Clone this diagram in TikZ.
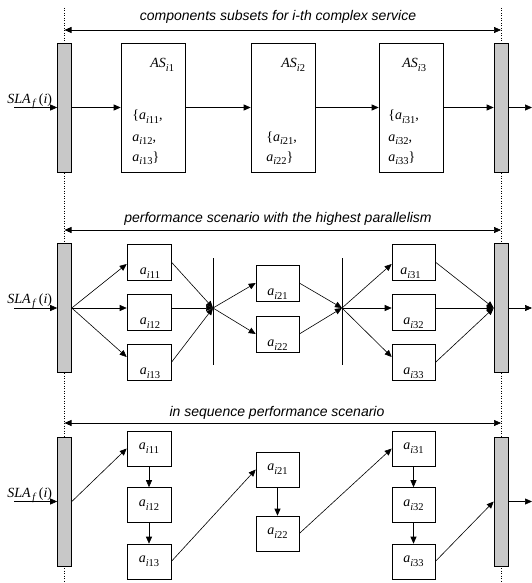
\documentclass[tikz,border=0pt]{standalone}
\usepackage{fontspec}
\setmainfont{Liberation Serif}
\newfontfamily\labfont{Liberation Sans}
\usetikzlibrary{arrows.meta,calc}
\definecolor{barfill}{RGB}{200,200,200}
\newcommand\sbs[1]{\raisebox{-0.28em}{\fontsize{10.5}{11}\selectfont #1}}
\newcommand\ai[1]{\textit{a}\sbs{\textit{i}#1}}
\begin{document}
\begin{tikzpicture}[x=1pt,y=-1pt, line width=0.6pt,
 arr/.style={-{Triangle[length=7pt,width=6pt]}},
 dbl/.style={{Triangle[length=7pt,width=6pt]}-{Triangle[length=7pt,width=6pt]}},
 gbar/.style={draw, fill=barfill, minimum width=14pt, minimum height=129pt, inner sep=0pt},
 asbox/.style={draw, minimum width=64pt, minimum height=129pt, inner sep=0pt},
 sbox/.style={draw, minimum width=43pt, minimum height=36pt, inner sep=0pt, font=\fontsize{14}{15}\selectfont},
 txt/.style={font=\fontsize{14}{15}\selectfont, inner sep=0pt},
 ttl/.style={font=\labfont\itshape\fontsize{14}{15}\selectfont, inner sep=0pt, anchor=base},
 guide/.style={dotted, line width=0.5pt}
]
\useasboundingbox (0,0) rectangle (532,583);
% guides
\coordinate (gLt) at (64.5,8); \coordinate (gLb) at (64.5,583);
\coordinate (gRt) at (501,8); \coordinate (gRb) at (501,583);
\draw[guide] (gLt) -- (gLb);
\draw[guide] (gRt) -- (gRb);

% ---------- section 1 ----------
\node[gbar] (L1) at (64.5,107.5) {};
\node[gbar] (R1) at (501,107.5) {};
\node[asbox] (A1) at (153,107.5) {};
\node[asbox] (A2) at (283,107.5) {};
\node[asbox] (A3) at (411,107.5) {};
\coordinate (T1a) at (64.5,30); \coordinate (T1b) at (501,30);
\draw[dbl] (T1a) -- (T1b);
\node[ttl] (T1) at (278,21) {components subsets for i-th complex service};
\coordinate (in1) at (14,107.5); \coordinate (out1) at (532,107.5);
\node[txt, anchor=base west] (S1) at (7,103) {\textit{SLA}\sbs{\,\textit{f}}\,(\textit{i})};
\draw[arr] (in1) -- (L1.west);
\draw[arr] (L1.east) -- (A1.west);
\draw[arr] (A1.east) -- (A2.west);
\draw[arr] (A2.east) -- (A3.west);
\draw[arr] (A3.east) -- (R1.west);
\draw[arr] (R1.east) -- (out1);
\node[txt, anchor=base west] (AS1) at (150,68) {\textit{AS}\sbs{\textit{i}1}};
\node[txt, anchor=base west] (AS2) at (281,68) {\textit{AS}\sbs{\textit{i}2}};
\node[txt, anchor=base west] (AS3) at (402,68) {\textit{AS}\sbs{\textit{i}3}};
\node[txt, anchor=base west] (c11) at (132,120) {\{\ai{11},};
\node[txt, anchor=base west] (c12) at (132,141) {\ai{12},};
\node[txt, anchor=base west] (c13) at (132,161) {\ai{13}\}};
\node[txt, anchor=base west] (c21) at (266,141) {\{\ai{21},};
\node[txt, anchor=base west] (c22) at (266,161) {\ai{22}\}};
\node[txt, anchor=base west] (c31) at (388,120) {\{\ai{31},};
\node[txt, anchor=base west] (c32) at (388,141) {\ai{32},};
\node[txt, anchor=base west] (c33) at (388,161) {\ai{33}\}};

% ---------- section 2 ----------
\node[gbar] (L2) at (64.5,308) {};
\node[gbar] (R2) at (501,308) {};
\coordinate (T2a) at (64.5,230); \coordinate (T2b) at (501,230);
\draw[dbl] (T2a) -- (T2b);
\node[ttl] (T2) at (278,222) {performance scenario with the highest parallelism};
\coordinate (in2) at (14,308); \coordinate (out2) at (532,308);
\node[txt, anchor=base west] (S2) at (7,303) {\textit{SLA}\sbs{\,\textit{f}}\,(\textit{i})};
\draw[arr] (in2) -- (L2.west);
\draw[arr] (R2.east) -- (out2);
\coordinate (J1) at (213,308); \coordinate (J2) at (342,308);
\coordinate (V1t) at (213,258); \coordinate (V1b) at (213,365);
\coordinate (V2t) at (342,258); \coordinate (V2b) at (342,365);
\draw (V1t) -- (V1b);
\draw (V2t) -- (V2b);
\node[sbox, minimum width=44pt] (m11) at (149,262) {};
\node[sbox, minimum width=44pt] (m12) at (149,312) {};
\node[sbox, minimum width=44pt] (m13) at (149,362.5) {};
\node[sbox] (m21) at (277.5,283) {};
\node[sbox] (m22) at (277.5,334) {};
\node[sbox] (m31) at (413.5,262) {};
\node[sbox] (m32) at (413.5,312) {};
\node[sbox] (m33) at (413.5,362.5) {};
\node[txt, anchor=base] at ($(m11.south)+(1,-6)$) {\ai{11}};
\node[txt, anchor=base] at ($(m12.south)+(1,-6)$) {\ai{12}};
\node[txt, anchor=base] at ($(m13.south)+(1,-6)$) {\ai{13}};
\node[txt, anchor=base] at ($(m21.south)+(0,-6)$) {\ai{21}};
\node[txt, anchor=base] at ($(m22.south)+(0,-6)$) {\ai{22}};
\node[txt, anchor=base] at ($(m31.south)+(-3,-6)$) {\ai{31}};
\node[txt, anchor=base] at ($(m32.south)+(0,-6)$) {\ai{32}};
\node[txt, anchor=base] at ($(m33.south)+(0,-6)$) {\ai{33}};
\draw[arr] (L2.east) -- ($(m11.west)+(0,2)$);
\draw[arr] (L2.east) -- (L2.east -| m12.west);
\draw[arr] (L2.east) -- ($(m13.west)+(0,-5.5)$);
\draw[arr] (m11.east) -- (J1);
\draw[arr] (L2.east -| m12.east) -- (J1);
\draw[arr] (m13.east) -- (J1);
\draw[arr] (J1) -- (m21.west);
\draw[arr] (J1) -- (m22.west);
\draw[arr] (m21.east) -- (J2);
\draw[arr] (m22.east) -- (J2);
\draw[arr] (J2) -- ($(m31.west)+(0,2)$);
\draw[arr] (J2) -- (J2 -| m32.west);
\draw[arr] (J2) -- ($(m33.west)+(0,-5.5)$);
\draw[arr] (m31.east) -- (R2.west);
\draw[arr] (J2 -| m32.east) -- (R2.west);
\draw[arr] (m33.east) -- (R2.west);

% ---------- section 3 ----------
\node[gbar] (L3) at (64.5,501.5) {};
\node[gbar] (R3) at (501,501.5) {};
\coordinate (T3a) at (64.5,423); \coordinate (T3b) at (501,423);
\draw[dbl] (T3a) -- (T3b);
\node[ttl] (T3) at (277,416) {in sequence performance scenario};
\coordinate (in3) at (14,501.5); \coordinate (out3) at (532,501.5);
\node[txt, anchor=base west] (S3) at (7,497) {\textit{SLA}\sbs{\,\textit{f}}\,(\textit{i})};
\draw[arr] (in3) -- (L3.west);
\draw[arr] (R3.east) -- (out3);
\node[sbox, minimum width=44pt, minimum height=35pt] (s11) at (149,448.5) {\ai{11}};
\node[sbox, minimum width=44pt, minimum height=35pt] (s12) at (149,505) {\ai{12}};
\node[sbox, minimum width=44pt, minimum height=35pt] (s13) at (149,561.5) {\ai{13}};
\node[sbox, minimum height=35pt] (s21) at (277.5,469.5) {\ai{21}};
\node[sbox, minimum height=35pt] (s22) at (277.5,533.5) {\ai{22}};
\node[sbox, minimum height=35pt] (s31) at (413.5,448.5) {\ai{31}};
\node[sbox, minimum height=35pt] (s32) at (413.5,505) {\ai{32}};
\node[sbox, minimum height=35pt] (s33) at (413.5,561.5) {\ai{33}};
\draw[arr] (L3.east) -- (s11.west);
\draw[arr] (s11) -- (s12);
\draw[arr] (s12) -- (s13);
\draw[arr] (s13.east) -- (s21.west);
\draw[arr] (s21) -- (s22);
\draw[arr] (s22.east) -- (s31.west);
\draw[arr] (s31) -- (s32);
\draw[arr] (s32) -- (s33);
\draw[arr] (s33.east) -- (R3.west);
\end{tikzpicture}
\end{document}
